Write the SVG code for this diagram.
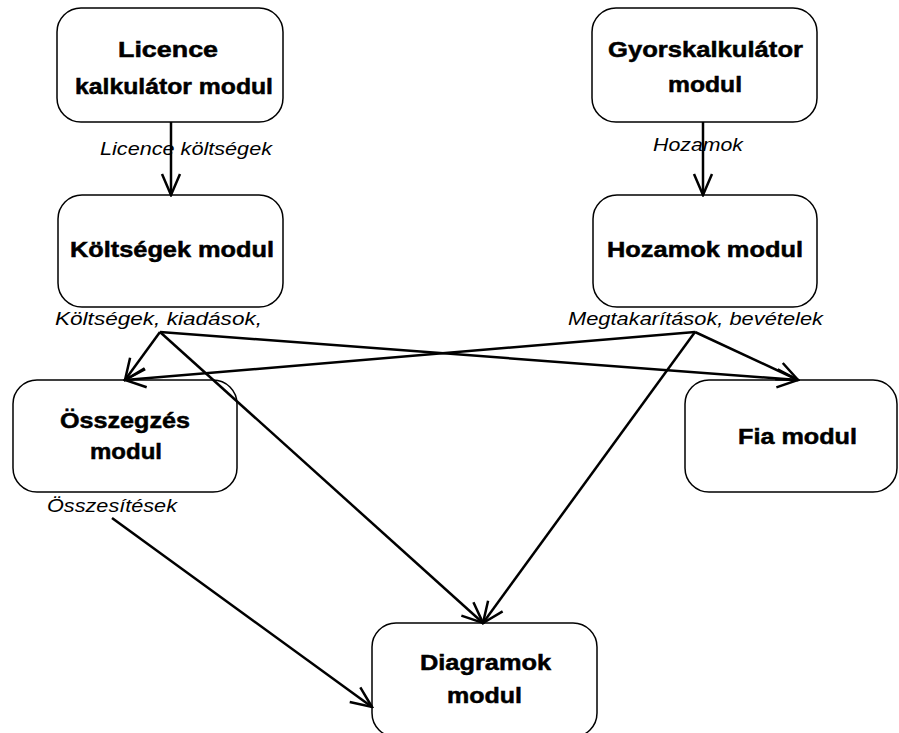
<svg xmlns="http://www.w3.org/2000/svg" width="899" height="733" viewBox="0 0 899 733">
<style>
.box{fill:#fff;stroke:#000;stroke-width:1.5}
.t{font-family:"Liberation Sans",Arial,sans-serif;font-weight:bold;font-size:22px;fill:#000;stroke:#000;stroke-width:0.5}
.l{font-family:"Liberation Sans",Arial,sans-serif;font-style:italic;font-size:19px;fill:#000}
.c{stroke:#000;stroke-width:2.5;fill:none;marker-end:url(#arr)}
</style>
<defs>
<marker id="arr" markerUnits="userSpaceOnUse" viewBox="-24 -12 26 24" refX="0" refY="0" markerWidth="26" markerHeight="24" orient="auto">
<path d="M-21,-9 L0,0 L-21,9" fill="none" stroke="#000" stroke-width="2.5"/>
</marker>
</defs>
<rect width="899" height="733" fill="#fff"/>
<g id="licence"><rect class="box" x="57" y="8" width="226" height="114" rx="24"/>
<text class="t" x="118" y="57" textLength="100" lengthAdjust="spacingAndGlyphs">Licence</text>
<text class="t" x="75" y="94" textLength="198" lengthAdjust="spacingAndGlyphs">kalkulátor modul</text></g>
<g id="gyors"><rect class="box" x="592" y="8" width="225" height="114" rx="24"/>
<text class="t" x="608" y="57" textLength="195" lengthAdjust="spacingAndGlyphs">Gyorskalkulátor</text>
<text class="t" x="668" y="92" textLength="74" lengthAdjust="spacingAndGlyphs">modul</text></g>
<g id="koltsegek"><rect class="box" x="58" y="195" width="225" height="112" rx="24"/>
<text class="t" x="70" y="257" textLength="204" lengthAdjust="spacingAndGlyphs">Költségek modul</text></g>
<g id="hozamok"><rect class="box" x="593" y="195" width="224" height="112" rx="24"/>
<text class="t" x="607" y="257" textLength="196" lengthAdjust="spacingAndGlyphs">Hozamok modul</text></g>
<g id="osszegzes"><rect class="box" x="13" y="380" width="224" height="112" rx="24"/>
<text class="t" x="60" y="428" textLength="130" lengthAdjust="spacingAndGlyphs">Összegzés</text>
<text class="t" x="90" y="459" textLength="72" lengthAdjust="spacingAndGlyphs">modul</text></g>
<g id="fia"><rect class="box" x="685" y="380" width="212" height="112" rx="24"/>
<text class="t" x="738" y="444" textLength="119" lengthAdjust="spacingAndGlyphs">Fia modul</text></g>
<g id="diagramok"><rect class="box" x="372" y="623" width="225" height="114" rx="24"/>
<text class="t" x="420" y="670" textLength="131" lengthAdjust="spacingAndGlyphs">Diagramok</text>
<text class="t" x="447" y="703" textLength="75" lengthAdjust="spacingAndGlyphs">modul</text></g>
<g id="connectors">
<line class="c" x1="171" y1="122" x2="171" y2="195"/>
<line class="c" x1="703" y1="122" x2="703" y2="195"/>
<line class="c" x1="160" y1="332" x2="125" y2="380"/>
<line class="c" x1="160" y1="332" x2="798" y2="380"/>
<line class="c" x1="160" y1="332" x2="483" y2="623"/>
<line class="c" x1="695" y1="332" x2="798" y2="380"/>
<line class="c" x1="695" y1="332" x2="125" y2="380"/>
<line class="c" x1="695" y1="332" x2="483" y2="623"/>
<line class="c" x1="112" y1="518" x2="372" y2="707"/>
</g>
<g id="labels">
<text class="l" x="100" y="155" textLength="172" lengthAdjust="spacingAndGlyphs">Licence költségek</text>
<text class="l" x="653" y="151" textLength="90" lengthAdjust="spacingAndGlyphs">Hozamok</text>
<text class="l" x="55" y="325" textLength="207" lengthAdjust="spacingAndGlyphs">Költségek, kiadások,</text>
<text class="l" x="568" y="325" textLength="255" lengthAdjust="spacingAndGlyphs">Megtakarítások, bevételek</text>
<text class="l" x="47" y="512" textLength="130" lengthAdjust="spacingAndGlyphs">Összesítések</text>
</g>
</svg>
